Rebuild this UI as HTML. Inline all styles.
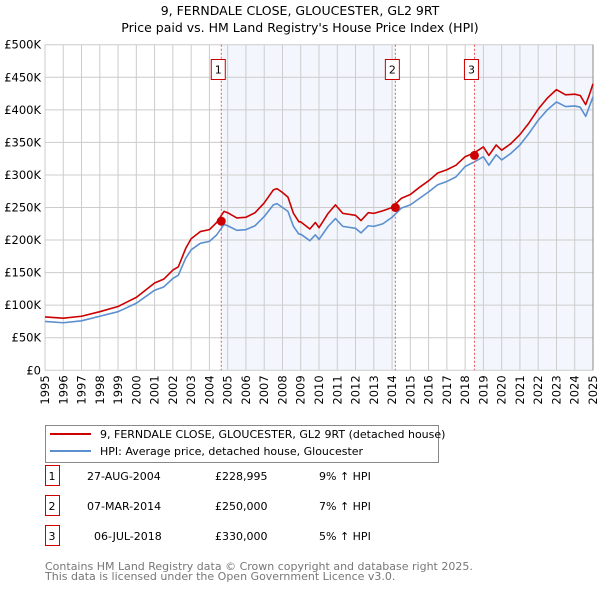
<!DOCTYPE html>
<html><head><meta charset="utf-8"><style>
body{margin:0;background:#fff;font-family:"DejaVu Sans","Liberation Sans",sans-serif;}
svg text{font-family:"DejaVu Sans","Liberation Sans",sans-serif;}
</style></head><body>
<svg id="c" width="600" height="590" viewBox="0 0 600 590" xmlns="http://www.w3.org/2000/svg">
<text x="300" y="15" text-anchor="middle" font-size="12.5">9, FERNDALE CLOSE, GLOUCESTER, GL2 9RT</text>
<text x="300" y="32" text-anchor="middle" font-size="12.5">Price paid vs. HM Land Registry's House Price Index (HPI)</text>
<g id="plot"></g>
<g>
<rect x="45.5" y="425.5" width="393" height="37" fill="#fff" stroke="#888"/>
<line x1="50" y1="434" x2="91" y2="434" stroke="#cc0000" stroke-width="2"/>
<text x="100" y="438" font-size="11">9, FERNDALE CLOSE, GLOUCESTER, GL2 9RT (detached house)</text>
<line x1="50" y1="451" x2="91" y2="451" stroke="#5b8fd0" stroke-width="2"/>
<text x="100" y="455" font-size="11">HPI: Average price, detached house, Gloucester</text>
</g>
<g id="table" font-size="11"></g>
<text x="45" y="570" font-size="11" fill="#777">Contains HM Land Registry data © Crown copyright and database right 2025.</text>
<text x="45" y="580" font-size="11" fill="#777">This data is licensed under the Open Government Licence v3.0.</text>
</svg>
<script>
const dates=[1995,1996,1997,1998,1999,2000,2001,2001.5,2002,2002.3,2002.7,2003,2003.5,2004,2004.4,2004.8,2005,2005.5,2006,2006.5,2007,2007.5,2007.7,2008,2008.3,2008.6,2008.9,2009,2009.5,2009.8,2010,2010.5,2010.9,2011.3,2012,2012.3,2012.7,2013,2013.5,2014,2014.5,2015,2015.5,2016,2016.5,2017,2017.5,2018,2018.5,2019,2019.3,2019.7,2020,2020.5,2021,2021.5,2022,2022.5,2023,2023.5,2024,2024.3,2024.6,2024.8,2025];
const hpiValues=[75,73,76,83,90,103,123,128,141,146,172,185,195,198,208,224,222,215,216,222,236,254,256,250,244,221,209,209,199,208,201,221,233,221,218,211,222,221,225,235,249,254,264,274,285,290,297,313,320,328,315,331,323,333,346,364,384,400,412,405,406,404,390,405,420];
const propValues=[82,80,83,90,98,112,134,140,154,159,187,202,213,216,227,244,242,234,235,242,257,277,279,273,266,241,228,228,217,227,219,241,254,241,238,230,242,241,245,250,264,270,281,291,303,308,315,328,334,343,330,346,338,348,362,380,401,418,431,423,424,422,408,423,440];
const saleDates=[2004.65,2014.18,2018.51];
const salePrices=[228995,250000,330000];
const saleLabels=["1","2","3"];
const saleDateText=["27-AUG-2004","07-MAR-2014","06-JUL-2018"];
const salePriceText=["£228,995","£250,000","£330,000"];
const saleHpiText=["9% ↑ HPI","7% ↑ HPI","5% ↑ HPI"];
const yTicks=[0,50000,100000,150000,200000,250000,300000,350000,400000,450000,500000];
const yTickLabels=["£0","£50K","£100K","£150K","£200K","£250K","£300K","£350K","£400K","£450K","£500K"];
const xTicks=[1995,1996,1997,1998,1999,2000,2001,2002,2003,2004,2005,2006,2007,2008,2009,2010,2011,2012,2013,2014,2015,2016,2017,2018,2019,2020,2021,2022,2023,2024,2025];

const X0=45,X1=593,Y0=370.3,Y1=44.7;
const xs=d=>X0+(d-1995)/30*(X1-X0);
const ys=v=>Y0-v/500000*(Y0-Y1);
const NS="http://www.w3.org/2000/svg";
const plot=document.getElementById('plot');
function mk(tag,attrs,parent){const e=document.createElementNS(NS,tag);for(const k in attrs)e.setAttribute(k,attrs[k]);(parent||plot).appendChild(e);return e;}

// shading
let sh=mk('rect',{x:xs(saleDates[0]),y:Y1,width:xs(saleDates[1])-xs(saleDates[0]),height:Y0-Y1,fill:'#eef3fc',opacity:0.7});


let sh2=mk('rect',{x:xs(saleDates[2]),y:Y1,width:X1-xs(saleDates[2]),height:Y0-Y1,fill:'#eef3fc',opacity:0.7});



yTicks.forEach((t,i)=>{
  const g=mk('line',{x1:X0,x2:X1,y1:ys(t),y2:ys(t),stroke:'#cccccc','stroke-width':1});
  
  
  const l=mk('text',{x:X0-4,y:ys(t)+4,'text-anchor':'end','font-size':11.5});
  
  
  l.textContent=yTickLabels[i];
});
xTicks.forEach(t=>{
  const g=mk('line',{x1:xs(t),x2:xs(t),y1:Y1,y2:Y0,stroke:'#cccccc','stroke-width':1});
  
  
  const l=mk('text',{x:0,y:0,'text-anchor':'end','font-size':11.5,transform:`translate(${xs(t)+4},${Y0+5}) rotate(-90)`});
  
  
  l.textContent=t;
});
const ax=mk('line',{x1:X1,x2:X1,y1:Y1,y2:Y0,stroke:'#888','stroke-width':1});



function line(vals,color,name){
  const p=mk('polyline',{points:dates.map((d,i)=>xs(d)+','+ys(vals[i]*1000)).join(' '),fill:'none',stroke:color,'stroke-width':1.6,'stroke-linejoin':'round'});
  
  
}
line(hpiValues,'#5b8fd0','hpi-line');
line(propValues,'#cc0000','property-price-line');

saleDates.forEach((d,i)=>{
  const v=mk('line',{x1:xs(d),x2:xs(d),y1:Y1,y2:Y0,stroke:'#ee5555','stroke-width':1,'stroke-dasharray':'2,2'});
  
  
  const r=mk('rect',{x:xs(d)-10,y:59.5,width:14,height:20,fill:'#fff',stroke:'#cc0000'});
  
  
  const t=mk('text',{x:xs(d)-3,y:73.5,'text-anchor':'middle','font-size':11});
  
  
  t.textContent=saleLabels[i];
  const c=mk('circle',{cx:xs(d),cy:ys(salePrices[i]),r:4.5,fill:'#cc0000'});
  
  
});

const tb=document.getElementById('table');
saleLabels.forEach((s,i)=>{
  const y=483+i*30;
  const r=mk('rect',{x:45.5,y:y-17.5,width:14,height:20,fill:'#fff',stroke:'#cc0000'},tb);
  
  
  const cells=[[52,s,'middle'],[87,saleDateText[i],'start'],[215,salePriceText[i],'start'],[319,saleHpiText[i],'start']];
  cells.forEach(c=>{
    const t=mk('text',{x:c[0]+(i==2&&c[0]==87?7:0),y:y-3,'text-anchor':c[2]},tb);
    
    
    t.textContent=c[1];
  });
});
</script>
</body></html>
